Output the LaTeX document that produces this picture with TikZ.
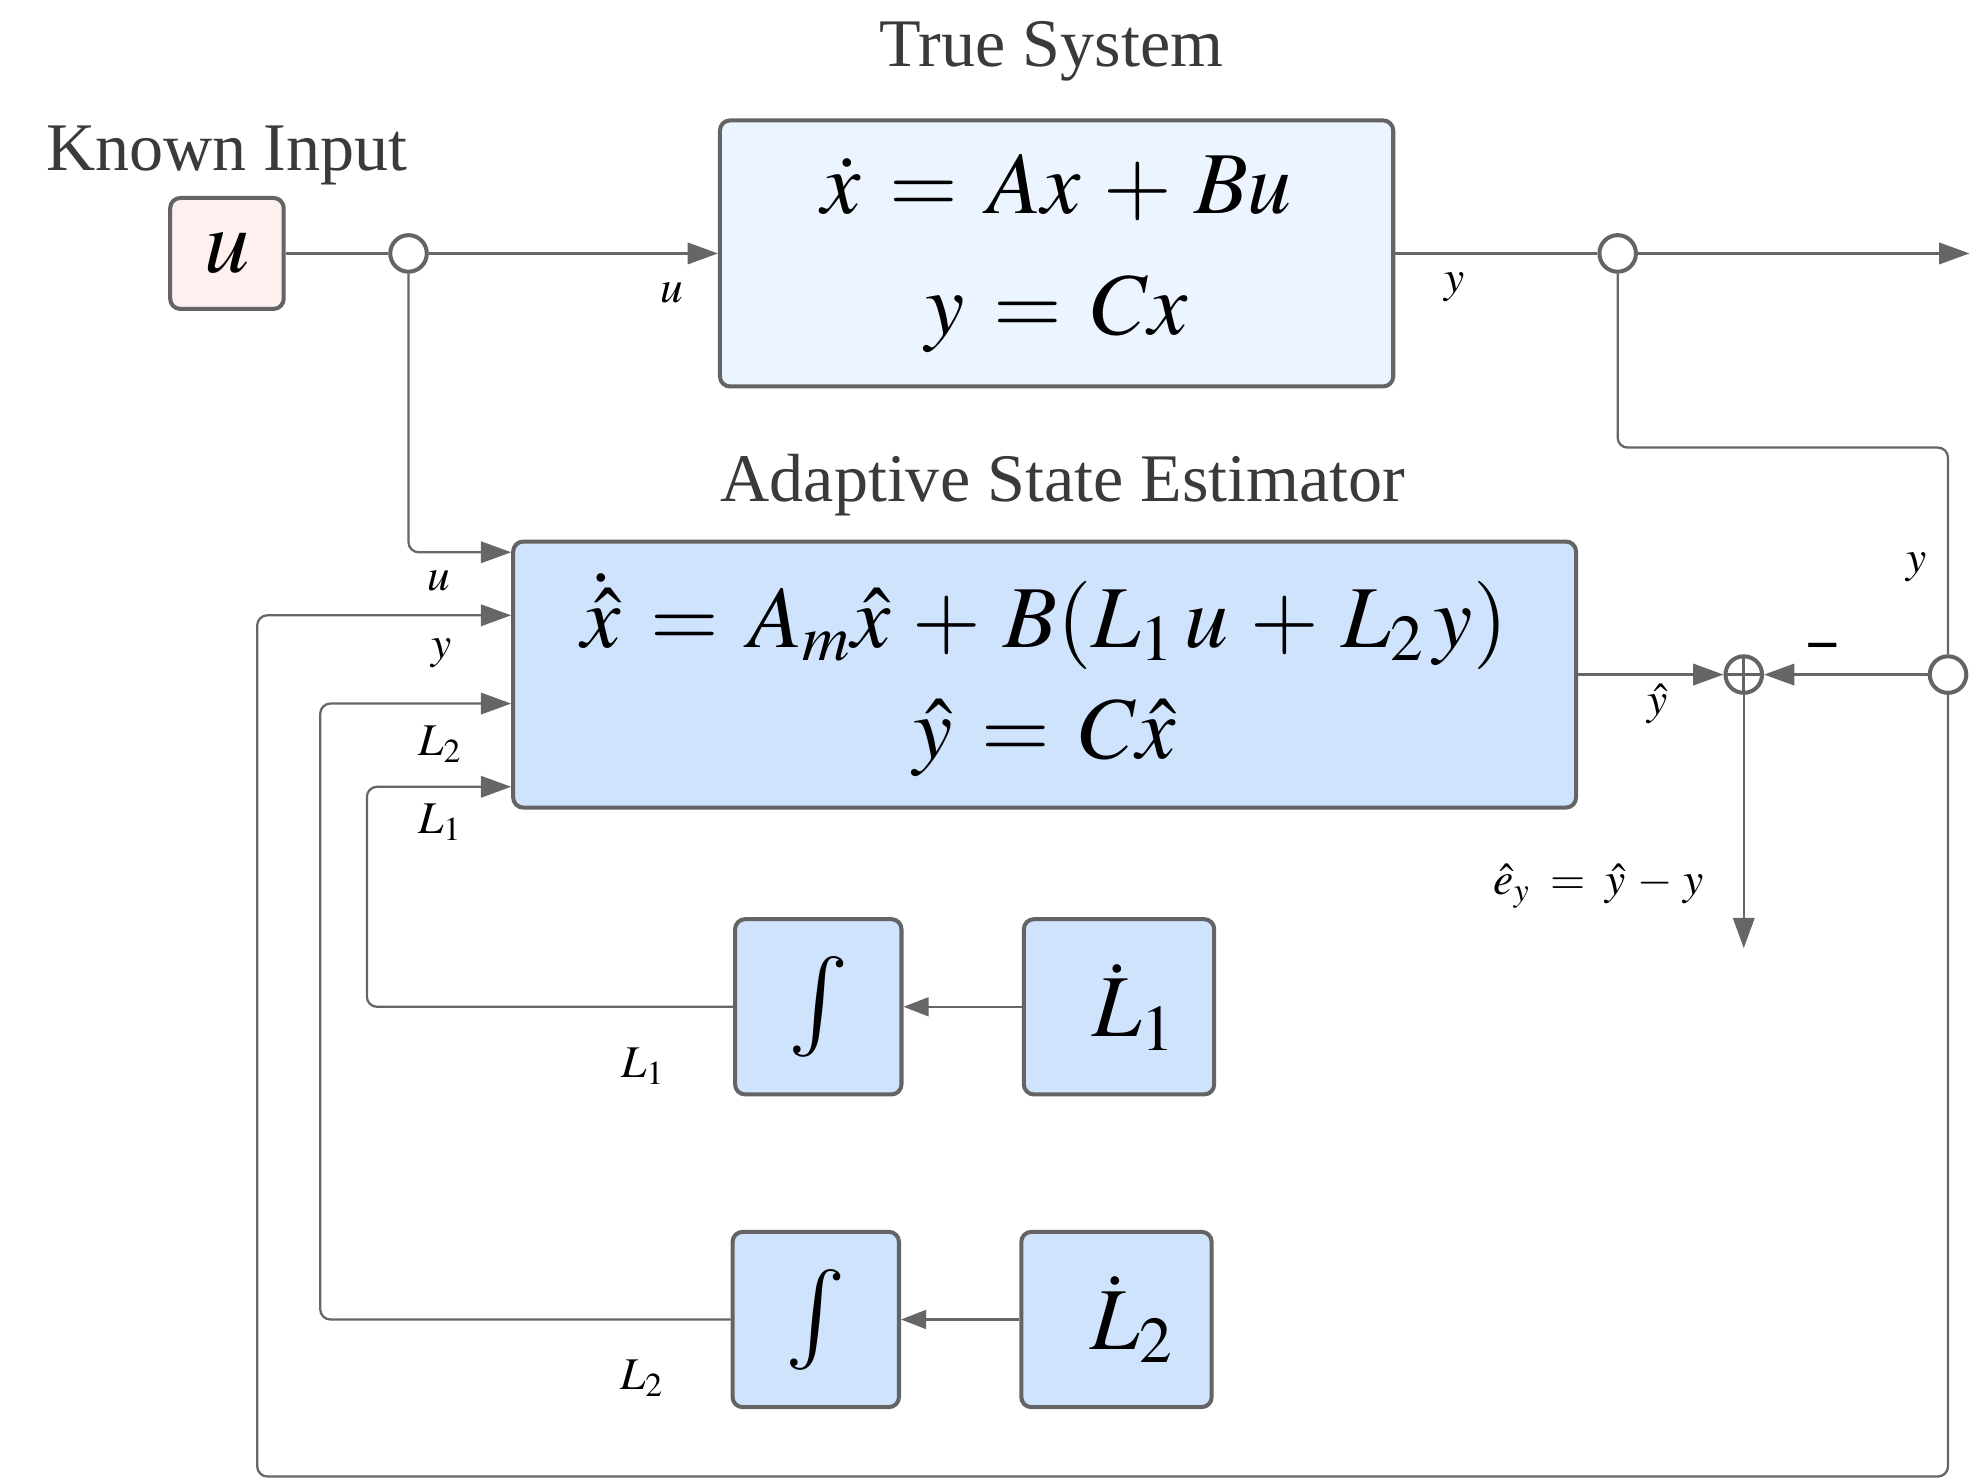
\documentclass[tikz,border=0pt]{standalone}
\usepackage{mathptmx}
\usepackage{fontspec}
\setmainfont{Liberation Serif}
\usetikzlibrary{arrows.meta,calc}

\definecolor{linegray}{HTML}{646464}
\definecolor{conngray}{HTML}{666666}
\definecolor{titlegray}{HTML}{3A3A3A}
\definecolor{inpink}{HTML}{FDF0EF}
\definecolor{truefill}{HTML}{EBF4FF}
\definecolor{estfill}{HTML}{CFE3FD}

\tikzset{
  blk/.style={draw=linegray, line width=1.6pt, rounded corners=4pt, inner sep=0pt},
  conn/.style={draw=conngray, line width=0.9pt, rounded corners=4pt},
  arr/.style={-{Triangle[length=12pt,width=8.5pt]}},
  arrsmall/.style={-{Triangle[length=10pt,width=7.5pt]}},
  jn/.style={circle, draw=linegray, line width=1.6pt, fill=white, minimum size=14.5pt, inner sep=0pt},
  lbl/.style={font=\fontsize{18}{21}\selectfont, inner sep=0pt},
  title/.style={font=\fontsize{27}{30}\selectfont, text=titlegray, inner sep=0pt},
  bigeq/.style={font=\fontsize{35}{46}\selectfont, align=center},
}

\begin{document}
\begin{tikzpicture}[x=0.5pt,y=-0.5pt]
\useasboundingbox (0,0) rectangle (1568,1174);

% titles
\node[title] (tTrue)  at (834,41)  {True System};
\node[title] (tKnown) at (180,123) {Known Input};
\node[title] (tEst)   at (843,385) {Adaptive State Estimator};

% blocks
\node[blk, fill=inpink, minimum width=45pt, minimum height=44pt,
      font=\fontsize{36}{40}\selectfont] (u) at (180,201) {$u$};
\node[blk, fill=truefill, minimum width=267pt, minimum height=105.5pt, bigeq]
      (sys) at (838,201) {$\dot{x} \,=\, Ax \,+\, Bu$\\[2pt]$y \,=\, Cx$};
\node[blk, fill=estfill, minimum width=421.5pt, minimum height=105.5pt,
      font=\fontsize{35}{44}\selectfont, align=center]
      (est) at (828.5,535)
      {$\dot{\hat{x}} \,=\, A_m\hat{x} \,+\, B(L_1\,u \,+\, L_2\,y)$\\$\hat{y} \,=\, C\hat{x}$};
\node[blk, fill=estfill, minimum width=66pt, minimum height=69.5pt,
      font=\fontsize{40}{44}\selectfont] (i1) at (649,798.5) {$\int$};
\node[blk, fill=estfill, minimum width=75.5pt, minimum height=69.5pt,
      font=\fontsize{35}{40}\selectfont] (d1) at (887.5,798.5) {\hspace{12pt}$\dot{L}_1$};
\node[blk, fill=estfill, minimum width=66pt, minimum height=69.5pt,
      font=\fontsize{40}{44}\selectfont] (i2) at (647,1046.5) {$\int$};
\node[blk, fill=estfill, minimum width=75.5pt, minimum height=69.5pt,
      font=\fontsize{35}{40}\selectfont] (d2) at (885.5,1046.5) {\hspace{12pt}$\dot{L}_2$};

% junctions and summing point
\node[jn] (j1) at (324,201) {};
\node[jn] (j2) at (1283,201) {};
\node[jn] (j3) at (1545,535) {};
\node[jn, path picture={
  \draw[linegray, line width=1.1pt]
    (path picture bounding box.north) -- (path picture bounding box.south)
    (path picture bounding box.west) -- (path picture bounding box.east);}]
  (s) at (1383,535) {};

% helper points
\coordinate (outR) at (1562,201);
\coordinate (yr)   at (1545,355);
\coordinate (eyEnd) at (1383,752);
\coordinate (bR) at (1545,1171);
\coordinate (bL) at (204,1171);
\coordinate (k1) at (291,798.5);
\coordinate (k2) at (254,1046.5);
\coordinate (inU)  at (est.west |- 0,438);
\coordinate (inY)  at (est.west |- 0,488);
\coordinate (inL2) at (est.west |- 0,558);
\coordinate (inL1) at (est.west |- 0,624);

% connectors
\draw[conn] (u) -- (j1);
\draw[conn, arr] (j1) -- (sys);
\draw[conn] (sys) -- (j2);
\draw[conn, arr] (j2) -- (outR);
\draw[conn] (j2.south) |- (yr) -- (j3.north);
\draw[conn, arr] (j3) -- (s);
\draw[conn, arr] (est) -- (s);
\draw[conn, arr] (s.south) -- (eyEnd);
\draw[conn, arr] (j1.south) |- (inU);
\draw[conn, arr] (j3.south) -- (bR) -- (bL) |- (inY);
\draw[conn, arr] (i2.west) -- (k2) |- (inL2);
\draw[conn, arr] (i1.west) -- (k1) |- (inL1);
\draw[conn, arrsmall] (d1) -- (i1);
\draw[conn, arrsmall] (d2) -- (i2);

% signal labels
\node[lbl] (lu1) at (533,232) {$u$};
\node[lbl] (ly1) at (1154,228) {$y$};
\node[lbl] (ly2) at (1520,450) {$y$};
\node[lbl] (lu2) at (348,461) {$u$};
\node[lbl] (ly3) at (350,518) {$y$};
\node[lbl] (lL2a) at (349,590) {$L_2$};
\node[lbl] (lL1a) at (349,652) {$L_1$};
\node[lbl] (lyh) at (1315,558) {$\hat{y}$};
\node[lbl, font=\bfseries\fontsize{24}{26}\selectfont] (lminus) at (1446,519) {−};
\node[lbl] (ley) at (1268,703) {$\hat{e}_y \;=\; \hat{y} \,-\, y$};
\node[lbl] (lL1b) at (510,846) {$L_1$};
\node[lbl] (lL2b) at (509,1093) {$L_2$};
\end{tikzpicture}
\end{document}
